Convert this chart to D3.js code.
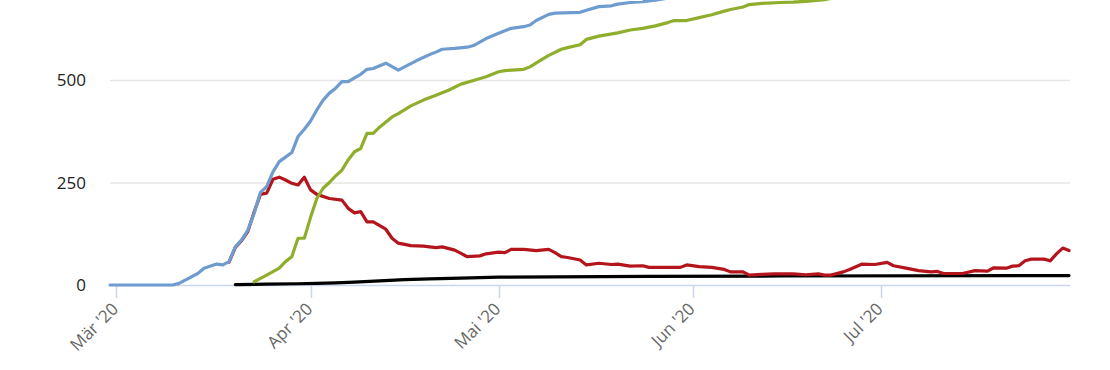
<!DOCTYPE html>
<html>
<head>
<meta charset="utf-8">
<script src="https://cdn.jsdelivr.net/npm/d3@7"></script>
<style>
  body { margin: 0; background: #fff; }
  svg { display: block; font-family: "Open Sans", "DejaVu Sans", sans-serif; }
</style>
</head>
<body>
<svg width="1110" height="370"></svg>
<script>
// total cases (blue)
var cases = [["02-29",0],["03-10",0],["03-11",4],["03-12",12],["03-14",28],["03-15",41],["03-17",51],["03-18",49],["03-19",57],["03-20",93],["03-21",110],["03-22",134],["03-23",175],["03-24",226],["03-25",240],["03-26",276],["03-27",301],["03-28",312],["03-29",323],["03-30",362],["03-31",380],["04-01",400],["04-02",427],["04-03",451],["04-04",468],["04-05",480],["04-06",496],["04-07",496],["04-08",505],["04-09",514],["04-10",526],["04-11",528],["04-13",541],["04-15",524],["04-16",532],["04-17",540],["04-18",548],["04-20",562],["04-21",568],["04-22",575],["04-24",577],["04-26",580],["04-27",584],["04-29",601],["05-01",614],["05-02",620],["05-03",626],["05-05",630],["05-06",634],["05-07",645],["05-09",660],["05-10",663],["05-14",665],["05-15",670],["05-17",679],["05-19",681],["05-20",685],["05-22",689],["05-24",691],["05-26",695],["05-29",702],["06-01",718],["06-10",730],["06-20",742],["07-01",760],["07-15",800],["07-31",870]];

// recovered (green)
var recovered = [["03-23",8],["03-24",16],["03-25",24],["03-27",41],["03-28",57],["03-29",69],["03-30",114],["03-31",114],["04-01",165],["04-02",211],["04-03",236],["04-04",250],["04-05",266],["04-06",280],["04-07",305],["04-08",325],["04-09",333],["04-10",370],["04-11",370],["04-12",385],["04-14",410],["04-15",418],["04-17",437],["04-19",451],["04-21",463],["04-23",475],["04-25",490],["04-27",499],["04-29",508],["05-01",520],["05-02",523],["05-05",526],["05-06",532],["05-08",551],["05-09",560],["05-11",575],["05-12",579],["05-14",586],["05-15",599],["05-17",607],["05-20",615],["05-22",622],["05-24",626],["05-26",632],["05-28",640],["05-29",645],["05-31",645],["06-02",652],["06-04",659],["06-06",668],["06-07",672],["06-09",678],["06-10",684],["06-12",687],["06-15",689],["06-17",690],["06-19",692],["06-22",696],["06-25",705],["07-05",720],["07-15",740],["07-31",765]];

// active (red)
var active = [["03-19",56],["03-20",92],["03-21",108],["03-22",131],["03-23",178],["03-24",221],["03-25",224],["03-26",258],["03-27",263],["03-28",256],["03-29",248],["03-30",244],["03-31",263],["04-01",232],["04-02",221],["04-04",211],["04-06",207],["04-07",187],["04-08",176],["04-09",179],["04-10",154],["04-11",154],["04-13",136],["04-14",114],["04-15",102],["04-17",96],["04-19",95],["04-21",91],["04-22",93],["04-24",85],["04-25",77],["04-26",69],["04-28",71],["04-29",76],["05-01",80],["05-02",79],["05-03",87],["05-05",87],["05-07",84],["05-09",87],["05-10",79],["05-11",69],["05-12",67],["05-14",61],["05-15",49],["05-17",53],["05-19",50],["05-20",51],["05-22",46],["05-24",47],["05-25",43],["05-27",43],["05-30",43],["05-31",49],["06-02",45],["06-04",43],["06-06",38],["06-07",32],["06-09",32],["06-10",24],["06-12",26],["06-14",27],["06-17",27],["06-19",25],["06-21",27],["06-22",24],["06-23",24],["06-25",32],["06-26",38],["06-28",51],["06-30",50],["07-02",55],["07-03",47],["07-05",41],["07-07",35],["07-09",32],["07-10",33],["07-11",28],["07-14",28],["07-16",35],["07-18",34],["07-19",42],["07-21",41],["07-22",46],["07-23",47],["07-24",59],["07-25",63],["07-27",63],["07-28",59],["07-29",76],["07-30",90],["07-31",84]];

// deaths (black)
var deaths = [["03-20",1],["03-25",2],["03-30",3],["04-02",4],["04-05",5],["04-08",7],["04-12",10],["04-16",13],["04-20",15],["04-25",17],["05-01",19],["05-10",20],["05-25",21],["06-15",22],["07-31",23]];

var yTicks = [0, 250, 500];
var monthTicks = ["03-01", "04-01", "05-01", "06-01", "07-01"];
var monthLabels = ["Mär '20", "Apr '20", "Mai '20", "Jun '20", "Jul '20"];

var parse = d3.utcParse('%Y-%m-%d');
function day(s) { return parse('2020-' + s); }

var svg = d3.select('svg');
var left = 110, right = 1069, bottom = 285;

var x = d3.scaleUtc()
    .domain([day('02-29'), day('07-31')])
    .range([left, right]);

var y = d3.scaleLinear()
    .domain([0, 500])
    .range([bottom, 80]);

// grid lines
svg.append('g')
    .selectAll('line')
    .data(yTicks.filter(function (d) { return d > 0; }))
    .enter()
    .append('line')
    .attr('x1', left)
    .attr('x2', right + 1)
    .attr('y1', function (d) { return y(d) + 0.5; })
    .attr('y2', function (d) { return y(d) + 0.5; })
    .attr('stroke', '#e6e6e6')
    .attr('stroke-width', 1.5);

// y labels
svg.append('g')
    .selectAll('text')
    .data(yTicks)
    .enter()
    .append('text')
    .attr('x', 86)
    .attr('y', function (d) { return y(d) + 6; })
    .attr('text-anchor', 'end')
    .attr('font-size', 17)
    .attr('fill', '#222')
    .text(function (d) { return d; });

// x axis line and ticks
svg.append('line')
    .attr('x1', left)
    .attr('x2', right + 1)
    .attr('y1', bottom + 0.5)
    .attr('y2', bottom + 0.5)
    .attr('stroke', '#ccd6eb')
    .attr('stroke-width', 1.5);

svg.append('g')
    .selectAll('line')
    .data(monthTicks)
    .enter()
    .append('line')
    .attr('x1', function (d) { return Math.round(x(day(d))) + 0.5; })
    .attr('x2', function (d) { return Math.round(x(day(d))) + 0.5; })
    .attr('y1', bottom)
    .attr('y2', bottom + 13)
    .attr('stroke', '#ccd6eb')
    .attr('stroke-width', 1.5);

svg.append('g')
    .selectAll('text')
    .data(monthTicks)
    .enter()
    .append('text')
    .attr('transform', function (d) {
        return 'translate(' + (x(day(d)) + 3) + ',' + 310 + ') rotate(-45)';
    })
    .attr('text-anchor', 'end')
    .attr('font-size', 17)
    .attr('fill', '#666')
    .text(function (d, i) { return monthLabels[i]; });

// lines
svg.append('clipPath')
    .attr('id', 'plot')
    .append('rect')
    .attr('x', left - 5)
    .attr('y', 0)
    .attr('width', right - left + 10)
    .attr('height', bottom + 5);

var line = d3.line()
    .x(function (d) { return x(day(d[0])); })
    .y(function (d) { return y(d[1]); });

var series = [
    {data: deaths, color: '#000000'},
    {data: active, color: '#b4141b'},
    {data: recovered, color: '#8fae2c'},
    {data: cases, color: '#6e9ccf'}
];

var g = svg.append('g').attr('clip-path', 'url(#plot)');
g.selectAll('path')
    .data(series)
    .enter()
    .append('path')
    .attr('d', function (s) { return line(s.data); })
    .attr('fill', 'none')
    .attr('stroke', function (s) { return s.color; })
    .attr('stroke-width', 3.2)
    .attr('stroke-linejoin', 'round')
    .attr('stroke-linecap', 'round');
</script>
</body>
</html>
